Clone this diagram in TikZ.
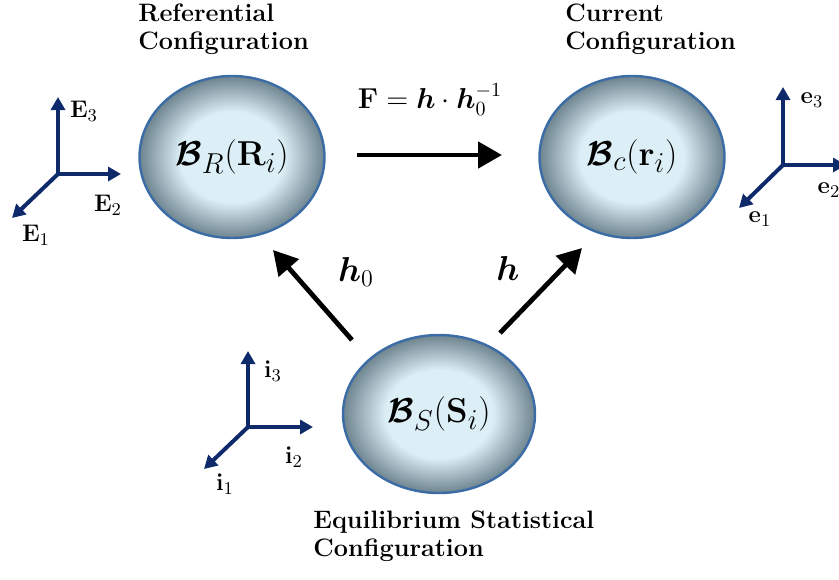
\documentclass[tikz,border=0pt]{standalone}
\usepackage{amsmath,amssymb,bm}
\usetikzlibrary{shapes.geometric,arrows.meta}
\definecolor{navy}{HTML}{0F2A6B}
\definecolor{ballin}{HTML}{DCEFF6}
\definecolor{ballout}{HTML}{6E848F}
\definecolor{ballrim}{HTML}{3B6CA6}
\pgfdeclareradialshading{ball}{\pgfpoint{0bp}{0bp}}{color(0bp)=(ballin); color(14bp)=(ballin); color(25bp)=(ballout); color(50bp)=(ballout)}
\tikzset{
  body/.style={ellipse, draw=ballrim, line width=1.2pt, shading=ball, inner sep=0pt, font=\fontsize{19}{22}\selectfont},
  axis/.style={draw=navy, line width=2pt, -{Triangle[length=6.5pt,width=7pt]}},
  bigarrow/.style={draw=black, line width=2.4pt, -{Triangle[length=12pt,width=13pt]}},
  title/.style={font=\fontsize{12.6}{15}\selectfont\bfseries, anchor=base west, inner sep=0pt},
  lab/.style={inner sep=0pt, font=\fontsize{13}{15}\selectfont},
}
\begin{document}
\begin{tikzpicture}[x=0.5pt,y=-0.5pt]
\useasboundingbox (0,0) rectangle (839,579);
% bodies
\node[body, minimum width=92.5pt, minimum height=81pt] (BR) at (232,157) {$\bm{\mathcal{B}}_R(\mathbf{R}_i)$};
\node[body, minimum width=92.5pt, minimum height=81pt] (Bc) at (632,157) {$\bm{\mathcal{B}}_c(\mathbf{r}_i)$};
\node[body, minimum width=96pt, minimum height=79pt] (BS) at (439,414) {$\bm{\mathcal{B}}_S(\mathbf{S}_i)$};
% titles
\node[title] (t1a) at (138,21) {Referential};
\node[title] (t1b) at (138,49) {Configuration};
\node[title] (t2a) at (565,21) {Current};
\node[title] (t2b) at (565,49) {Configuration};
\node[title] (t3a) at (313,528) {Equilibrium Statistical};
\node[title] (t3b) at (313,556) {Configuration};
% big arrows
\coordinate (fa) at (357,155);
\coordinate (fb) at (502,155);
\draw[bigarrow] (fa) -- (fb);
\node[lab, font=\fontsize{14}{16}\selectfont] (Flab) at (430,100) {$\mathbf{F}=\bm{h}\cdot\bm{h}_0^{-1}$};
\coordinate (h0a) at (352,340);
\coordinate (h0b) at (273,250);
\draw[bigarrow] (h0a) -- (h0b);
\node[lab, font=\fontsize{18}{20}\selectfont] (h0lab) at (356,272) {$\bm{h}_0$};
\coordinate (ha) at (500,333);
\coordinate (hb) at (582,248);
\draw[bigarrow] (ha) -- (hb);
\node[lab, font=\fontsize{18}{20}\selectfont] (hlab) at (508,268) {$\bm{h}$};
% left triad
\coordinate (O1) at (58,174);
\coordinate (E3t) at (58,97);
\coordinate (E2t) at (121,174);
\coordinate (E1t) at (12,218);
\draw[axis] (O1) -- (E3t);
\draw[axis] (O1) -- (E2t);
\draw[axis] (O1) -- (E1t);
\node[lab] (E3l) at (84,111) {$\mathbf{E}_3$};
\node[lab] (E2l) at (108,205) {$\mathbf{E}_2$};
\node[lab] (E1l) at (36,235) {$\mathbf{E}_1$};
% right triad
\coordinate (O2) at (783,165);
\coordinate (e3t) at (783,87);
\coordinate (e2t) at (846,165);
\coordinate (e1t) at (739,208);
\draw[axis] (O2) -- (e3t);
\draw[axis] (O2) -- (e2t);
\draw[axis] (O2) -- (e1t);
\node[lab] (e3l) at (812,100) {$\mathbf{e}_3$};
\node[lab] (e2l) at (829,190) {$\mathbf{e}_2$};
\node[lab] (e1l) at (760,219) {$\mathbf{e}_1$};
% bottom triad
\coordinate (O3) at (248,427);
\coordinate (i3t) at (248,351);
\coordinate (i2t) at (313,427);
\coordinate (i1t) at (204,469);
\draw[axis] (O3) -- (i3t);
\draw[axis] (O3) -- (i2t);
\draw[axis] (O3) -- (i1t);
\node[lab] (i3l) at (273,371) {$\mathbf{i}_3$};
\node[lab] (i2l) at (294,457) {$\mathbf{i}_2$};
\node[lab] (i1l) at (225,484) {$\mathbf{i}_1$};
\end{tikzpicture}
\end{document}
